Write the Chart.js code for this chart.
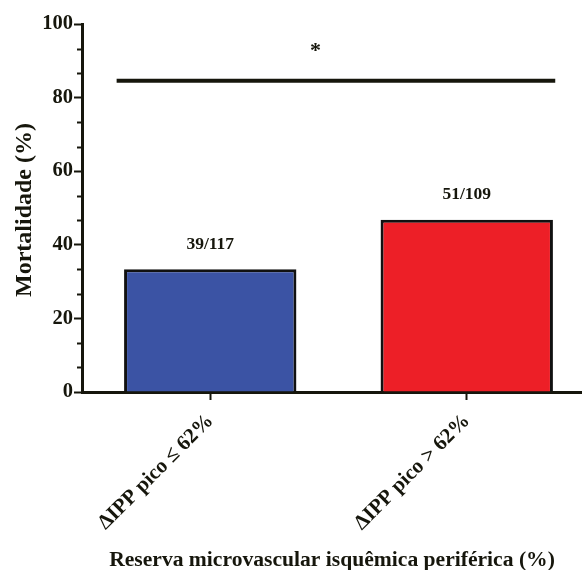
<!DOCTYPE html>
<html>
<head>
<meta charset="utf-8">
<script src="https://cdn.jsdelivr.net/npm/chart.js@4.4.1/dist/chart.umd.min.js"></script>
<style>
  html, body { margin: 0; padding: 0; background: #fff; overflow: hidden; }
  #wrap { width: 582px; height: 570px; overflow: hidden; position: relative; }
  canvas { display: block; }
</style>
</head>
<body>
<div id="wrap"><canvas id="c" width="600" height="570"></canvas></div>
<script>
// Groups compared
const categories = ['\u0394IPP pico \u2264 62%', '\u0394IPP pico > 62%'];
// Deaths and patients per group
const deaths = [39, 51];
const patients = [117, 109];
// Mortality (%) per group
const mortality = deaths.map((d, i) => d / patients[i] * 100);
const countLabels = deaths.map((d, i) => d + '/' + patients[i]);
const barColors = ['#3b53a4', '#ed1f27'];
// Y axis ticks
const yTickValues = [0, 20, 40, 60, 80, 100];
// Significance bracket level (%) and marker
const significanceLevel = [84.6];
const significanceMark = ['*'];

const INK = '#16160c';
const SERIF = '"Liberation Serif", "Times New Roman", serif';

const overlay = {
  id: 'overlay',
  afterDraw(chart) {
    const ctx = chart.ctx;
    const x = chart.scales.x, y = chart.scales.y;
    ctx.save();

    // minor ticks on the y axis
    ctx.strokeStyle = INK;
    ctx.lineWidth = 2;
    for (let i = 0; i <= 15; i++) {
      if (i % 3 === 0) continue;
      const py = Math.round(y.getPixelForValue(i * 20 / 3)) + 0.5;
      ctx.beginPath();
      ctx.moveTo(x.left - 5, py);
      ctx.lineTo(x.left, py);
      ctx.stroke();
    }

    // count labels above bars
    ctx.fillStyle = INK;
    ctx.font = 'bold 17.5px ' + SERIF;
    ctx.textAlign = 'center';
    ctx.textBaseline = 'middle';
    const meta = chart.getDatasetMeta(0);
    meta.data.forEach((bar, i) => {
      ctx.fillText(countLabels[i], bar.x, bar.y - 25);
    });

    // significance line
    const x0 = x.getPixelForValue(0), x1 = x.getPixelForValue(1);
    const step = x1 - x0;
    const ly = y.getPixelForValue(significanceLevel[0]);
    ctx.lineWidth = 4;
    ctx.beginPath();
    ctx.moveTo(x0 - 0.365 * step, ly);
    ctx.lineTo(x1 + 0.345 * step, ly);
    ctx.stroke();
    ctx.font = 'bold 22px ' + SERIF;
    ctx.fillText(significanceMark[0], x0 + 0.41 * step, ly - 29);

    // axis titles
    ctx.font = 'bold 21.6px ' + SERIF;
    ctx.fillText('Reserva microvascular isqu\u00eamica perif\u00e9rica (%)', 332, 560);
    ctx.font = 'bold 24px ' + SERIF;
    ctx.translate(25, 210);
    ctx.rotate(-Math.PI / 2);
    ctx.fillText('Mortalidade (%)', 0, 0);
    ctx.restore();
  }
};

new Chart(document.getElementById('c'), {
  type: 'bar',
  data: {
    labels: categories,
    datasets: [{
      data: mortality,
      backgroundColor: barColors,
      borderColor: '#111',
      borderWidth: 3,
      barPercentage: 0.672,
      categoryPercentage: 1
    }]
  },
  options: {
    responsive: false,
    animation: false,
    layout: { padding: { top: 24, right: 5, left: 0, bottom: 0 } },
    plugins: { legend: { display: false }, tooltip: { enabled: false } },
    scales: {
      x: {
        offset: true,
        border: { display: true, color: INK, width: 3 },
        grid: { drawOnChartArea: false, drawTicks: true, tickLength: 8, tickWidth: 2, tickColor: INK, offset: false },
        ticks: {
          color: INK,
          font: { family: SERIF, size: 21, weight: 'bold' },
          maxRotation: 45, minRotation: 45, padding: 9
        },
        afterFit(s) { s.height = 178; s.paddingLeft = 0; s.paddingRight = 0; }
      },
      y: {
        min: 0, max: 100,
        afterBuildTicks(s) { s.ticks = yTickValues.map(v => ({ value: v })); },
        border: { display: true, color: INK, width: 3 },
        grid: { drawOnChartArea: false, drawTicks: true, tickLength: 8, tickWidth: 2, tickColor: INK },
        ticks: {
          color: INK,
          font: { family: SERIF, size: 20.5, weight: 'bold' },
          padding: 1
        },
        afterFit(s) { s.width = 82; s.paddingTop = 0; s.paddingBottom = 0; }
      }
    }
  },
  plugins: [overlay]
});
</script>
</body>
</html>
